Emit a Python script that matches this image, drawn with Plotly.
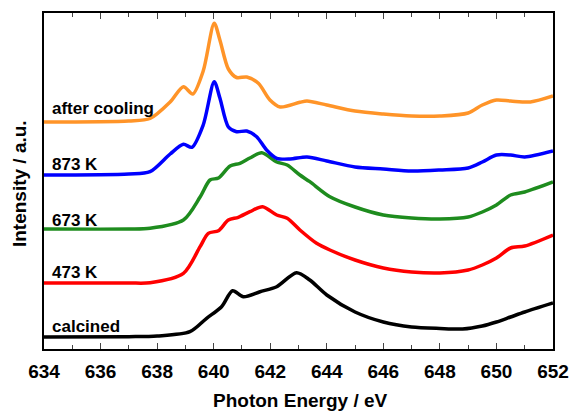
import plotly.graph_objects as go

# Photon energy (eV) sample points for each spectrum, intensity (a.u., offset stacked)
e_cal = [634, 637, 638, 639.16, 639.75, 640.28, 640.67, 641.05, 641.64, 642.23, 642.93, 643.4, 644, 645, 646, 647, 648, 648.8, 649.5, 650, 650.5, 651, 652]
i_cal = [13, 13.3, 14, 18.3, 31.7, 43.3, 59.3, 53.3, 58.3, 63.3, 77.3, 70, 55, 38, 28, 23, 21.5, 21, 24, 28, 33, 38, 47]

e_473 = [634, 637, 637.75, 638.93, 639.52, 639.81, 640.17, 640.52, 640.87, 641.28, 641.73, 642.23, 642.6, 643.05, 643.64, 644.11, 645, 646, 647, 648, 649, 649.5, 650, 650.5, 651, 652]
i_473 = [67, 67, 67.3, 76.7, 103.3, 116.7, 119.3, 130, 132.7, 138.3, 143.3, 135, 131.7, 120, 106.7, 100, 90, 82, 78, 77, 80, 85, 92, 102, 104, 115]

e_673 = [634, 637, 637.75, 638.93, 639.52, 639.87, 640.17, 640.58, 640.93, 641.28, 641.7, 642.23, 642.6, 643.05, 643.4, 644.11, 645, 646, 647, 648, 649, 649.5, 650, 650.5, 651, 652]
i_673 = [121, 121, 121.7, 130, 153, 170, 172, 184, 186.7, 192, 197.3, 188, 185, 175, 168.3, 153.3, 143, 135, 132, 131, 133, 138, 145, 155, 158, 168]

e_873 = [634, 637, 637.75, 638.46, 638.93, 639.23, 639.63, 640.02, 640.22, 640.52, 640.81, 641.17, 641.52, 641.87, 642.23, 642.7, 643.3, 644, 645, 646, 647, 648, 649, 649.5, 650, 650.5, 651, 652]
i_873 = [175, 176, 178.3, 196, 205.7, 202.7, 225, 268.3, 252, 223, 218.3, 219, 213.3, 200, 191.7, 191, 193, 189, 183, 181, 179, 180, 182, 188, 195, 195, 193, 199]

e_cool = [634, 637, 637.75, 638.46, 638.93, 639.26, 639.63, 640.02, 640.22, 640.52, 640.81, 641.17, 641.58, 641.99, 642.35, 643.05, 643.3, 644, 645, 646, 647, 648, 649, 649.5, 650, 650.5, 651.2, 652]
i_cool = [228, 229, 231.5, 248, 263.3, 256, 279, 326.7, 310, 281, 272.5, 273, 266.7, 250, 243, 247.7, 249, 245, 239, 236, 234, 234, 237, 245, 250, 249, 248, 254]

labels = ["calcined", "473 K", "673 K", "873 K", "after cooling"]
label_y = [24, 78, 130, 186, 242]
colors = ["#000000", "#FF0000", "#1E8C1E", "#0000FF", "#FF9428"]
xs = [e_cal, e_473, e_673, e_873, e_cool]
ys = [i_cal, i_473, i_673, i_873, i_cool]

FONT = "Liberation Sans, Arial"

fig = go.Figure()
for x, y, c, n in zip(xs, ys, colors, labels):
    fig.add_trace(go.Scatter(x=x, y=y, mode="lines", name=n,
                             line=dict(color=c, width=3.5, shape="spline", smoothing=0.8)))

for n, ly in zip(labels, label_y):
    fig.add_annotation(x=634.21, y=ly, text="<b>%s</b>" % n, showarrow=False, xanchor="left", yanchor="middle",
                       font=dict(family=FONT, size=17, color="black"))

# axis titles
fig.add_annotation(xref="paper", yref="paper", x=0.503, y=-0.152, text="<b>Photon Energy / eV</b>",
                   showarrow=False, xanchor="center", yanchor="middle", font=dict(family=FONT, size=19, color="black"))
fig.add_annotation(xref="paper", yref="paper", x=-0.048, y=0.4926, text="<b>Intensity / a.u.</b>", textangle=-90,
                   showarrow=False, xanchor="center", yanchor="middle", font=dict(family=FONT, size=19, color="black"))

fig.update_layout(
    width=572, height=414,
    margin=dict(l=44, r=19, t=13, b=65),
    plot_bgcolor="white", paper_bgcolor="white",
    showlegend=False,
    font=dict(family=FONT, color="black"),
)
fig.update_xaxes(range=[634, 652], tick0=634, dtick=2, ticks="inside", ticklen=6, tickwidth=1.2,
                 minor=dict(ticks="inside", ticklen=4, dtick=1, tickwidth=1),
                 showline=True, linecolor="black", linewidth=1.5, mirror="allticks",
                 showgrid=False, zeroline=False, ticklabelstandoff=4, automargin=False,
                 tickfont=dict(size=19, weight="bold"))
fig.update_yaxes(range=[1, 337], showticklabels=False, ticks="", showline=True, linecolor="black",
                 linewidth=1.5, mirror=True, showgrid=False, zeroline=False, automargin=False)

fig.write_html("out.html")
